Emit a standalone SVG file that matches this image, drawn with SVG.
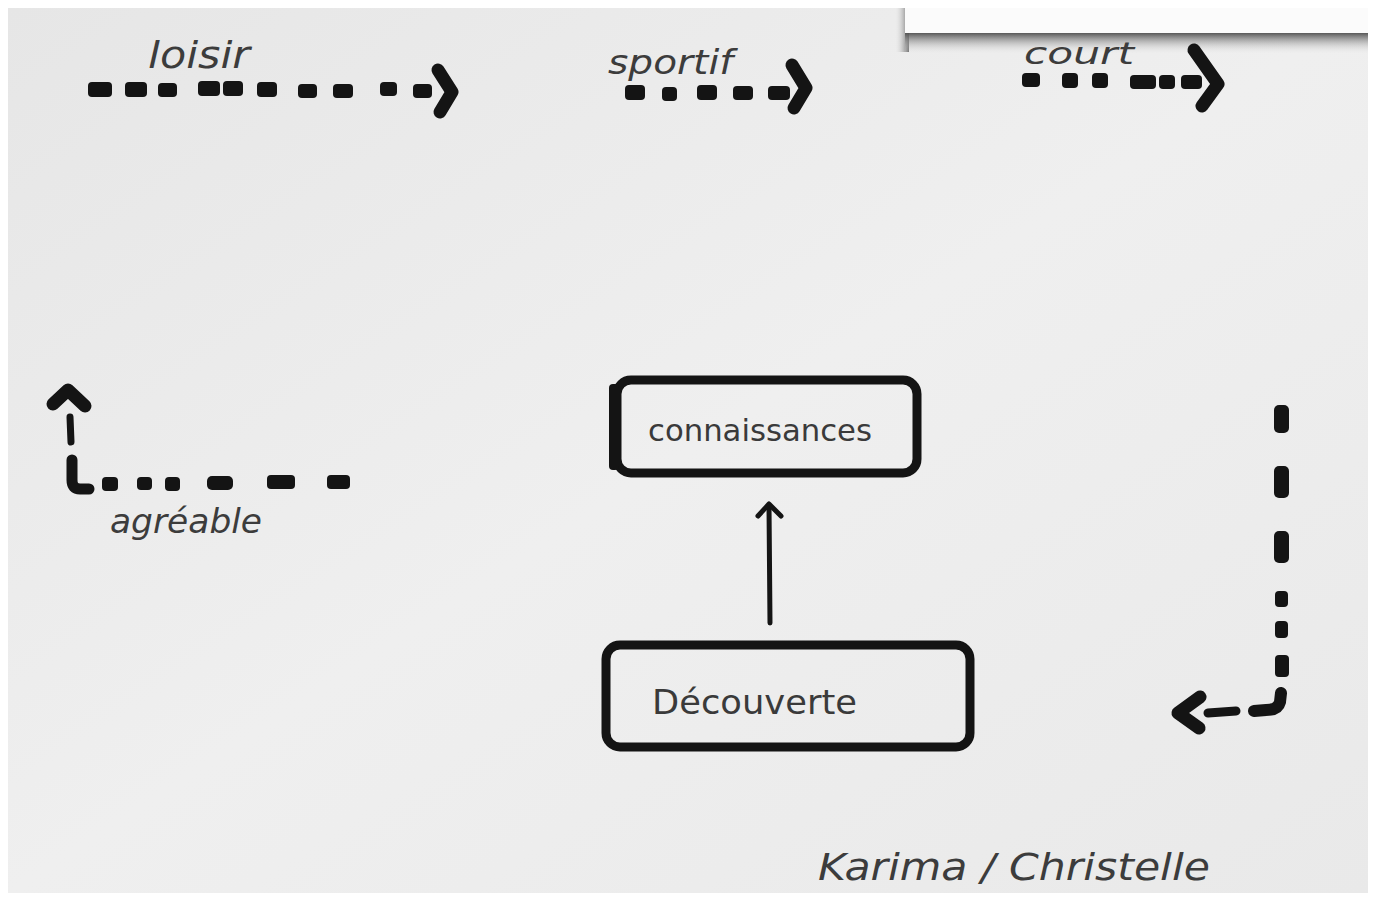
<svg xmlns="http://www.w3.org/2000/svg" width="1381" height="897" viewBox="0 0 1381 897">
<defs>
<linearGradient id="paper" x1="0" y1="0" x2="1" y2="1">
<stop offset="0" stop-color="#e6e6e6"/>
<stop offset="0.5" stop-color="#efefef"/>
<stop offset="1" stop-color="#e9e9e9"/>
</linearGradient>
<linearGradient id="shadow" x1="0" y1="0" x2="0" y2="1">
<stop offset="0" stop-color="#4a4a4a"/>
<stop offset="1" stop-color="#e8e8e8" stop-opacity="0"/>
</linearGradient>
<linearGradient id="shadowL" x1="1" y1="0" x2="0" y2="0">
<stop offset="0" stop-color="#6a6a6a"/>
<stop offset="1" stop-color="#e8e8e8" stop-opacity="0"/>
</linearGradient>
</defs>
<style>
.d{fill:#141414}
.ch{fill:none;stroke:#141414;stroke-width:13;stroke-linecap:round;stroke-linejoin:round}
.box{fill:none;stroke:#141414;stroke-width:9}
.hand{font-family:"DejaVu Sans","Liberation Sans",sans-serif;fill:#3c3c3c;font-style:italic}
.lab{font-family:"DejaVu Sans","Liberation Sans",sans-serif;fill:#3a3a3a}
</style>
<rect x="0" y="0" width="1381" height="897" fill="#ffffff"/>
<rect x="8" y="8" width="1360" height="885" fill="url(#paper)"/>
<g id="sheet">
<rect x="895" y="8" width="14" height="44" fill="url(#shadowL)"/>
<rect x="905" y="32" width="463" height="22" fill="url(#shadow)"/>
<rect x="905" y="8" width="463" height="25" fill="#fbfbfb"/>
</g>

<g id="connectors">
<g id="arrow-loisir">
<rect class="d" x="88" y="82" width="24" height="15" rx="4"/>
<rect class="d" x="125" y="82" width="22" height="15" rx="4"/>
<rect class="d" x="158" y="83" width="19" height="14" rx="4"/>
<rect class="d" x="198" y="81" width="22" height="15" rx="4"/>
<rect class="d" x="223" y="81" width="20" height="15" rx="4"/>
<rect class="d" x="257" y="82" width="20" height="15" rx="4"/>
<rect class="d" x="298" y="84" width="19" height="14" rx="4"/>
<rect class="d" x="333" y="84" width="20" height="14" rx="4"/>
<rect class="d" x="380" y="82" width="17" height="14" rx="4"/>
<rect class="d" x="413" y="84" width="19" height="14" rx="4"/>
<polyline class="ch" points="438,70 452,92 440,112"/>
</g>
<g id="arrow-sportif">
<rect class="d" x="625" y="85" width="20" height="15" rx="4"/>
<rect class="d" x="662" y="87" width="15" height="14" rx="4"/>
<rect class="d" x="697" y="85" width="20" height="15" rx="4"/>
<rect class="d" x="733" y="86" width="20" height="14" rx="4"/>
<rect class="d" x="768" y="86" width="22" height="14" rx="4"/>
<polyline class="ch" points="792,65 806,88 794,108"/>
</g>
<g id="arrow-court">
<rect class="d" x="1022" y="73" width="18" height="14" rx="4"/>
<rect class="d" x="1062" y="73" width="16" height="15" rx="4"/>
<rect class="d" x="1092" y="73" width="16" height="15" rx="4"/>
<rect class="d" x="1130" y="75" width="26" height="14" rx="4"/>
<rect class="d" x="1159" y="75" width="16" height="14" rx="4"/>
<rect class="d" x="1181" y="75" width="21" height="14" rx="4"/>
<polyline class="ch" points="1194,50 1218,84 1202,106"/>
</g>
<g id="arrow-agreable">
<rect class="d" x="327" y="475" width="23" height="14" rx="4"/>
<rect class="d" x="267" y="475" width="28" height="14" rx="4"/>
<rect class="d" x="207" y="476" width="26" height="14" rx="5"/>
<rect class="d" x="165" y="477" width="15" height="14" rx="4"/>
<rect class="d" x="137" y="477" width="15" height="13" rx="4"/>
<rect class="d" x="102" y="477" width="16" height="14" rx="4"/>
<path d="M72,460 L72,480 Q72,489 80,489 L89,489" fill="none" stroke="#141414" stroke-width="11" stroke-linecap="round"/>
<line x1="70" y1="417" x2="71" y2="442" stroke="#141414" stroke-width="7" stroke-linecap="round"/>
<polyline class="ch" points="53,404 68,390 85,406"/>
</g>
<g id="arrow-right">
<rect class="d" x="1274" y="405" width="15" height="28" rx="5"/>
<rect class="d" x="1274" y="466" width="15" height="32" rx="5"/>
<rect class="d" x="1274" y="531" width="15" height="32" rx="5"/>
<rect class="d" x="1275" y="591" width="13" height="16" rx="4"/>
<rect class="d" x="1275" y="621" width="13" height="17" rx="4"/>
<rect class="d" x="1275" y="655" width="14" height="22" rx="4"/>
<path d="M1281,693 L1280,702 Q1278,710 1266,710 L1254,711" fill="none" stroke="#141414" stroke-width="12" stroke-linecap="round"/>
<line x1="1208" y1="713" x2="1236" y2="711" stroke="#141414" stroke-width="9" stroke-linecap="round"/>
<polyline class="ch" points="1200,697 1178,713 1199,728"/>
</g>
<g id="edge-decouverte-connaissances">
<line x1="770" y1="623" x2="769" y2="506" stroke="#141414" stroke-width="5" stroke-linecap="round"/>
<polyline points="758,516 769,504 781,516" fill="none" stroke="#141414" stroke-width="5" stroke-linecap="round" stroke-linejoin="round"/>
</g>
</g>

<g id="labels">
<text class="hand" x="148" y="68" font-size="38" textLength="102" lengthAdjust="spacingAndGlyphs">loisir</text>
<text class="hand" x="608" y="74" font-size="34" textLength="125" lengthAdjust="spacingAndGlyphs">sportif</text>
<text class="hand" x="1024" y="64" font-size="30" textLength="110" lengthAdjust="spacingAndGlyphs">court</text>
<text class="hand" x="110" y="533" font-size="34" textLength="152" lengthAdjust="spacingAndGlyphs">agréable</text>
<text class="hand" x="818" y="880" font-size="38" textLength="392" lengthAdjust="spacingAndGlyphs">Karima / Christelle</text>
</g>

<g id="node-connaissances">
<rect class="box" x="617" y="380" width="300" height="93" rx="14"/>
<rect x="609" y="384" width="10" height="86" rx="4" fill="#141414"/>
<text class="lab" x="648" y="441" font-size="30" textLength="224" lengthAdjust="spacingAndGlyphs">connaissances</text>
</g>

<g id="node-decouverte">
<rect class="box" x="606" y="645" width="364" height="102" rx="14"/>
<text class="lab" x="652" y="714" font-size="34" textLength="205" lengthAdjust="spacingAndGlyphs">Découverte</text>
</g>
</svg>
